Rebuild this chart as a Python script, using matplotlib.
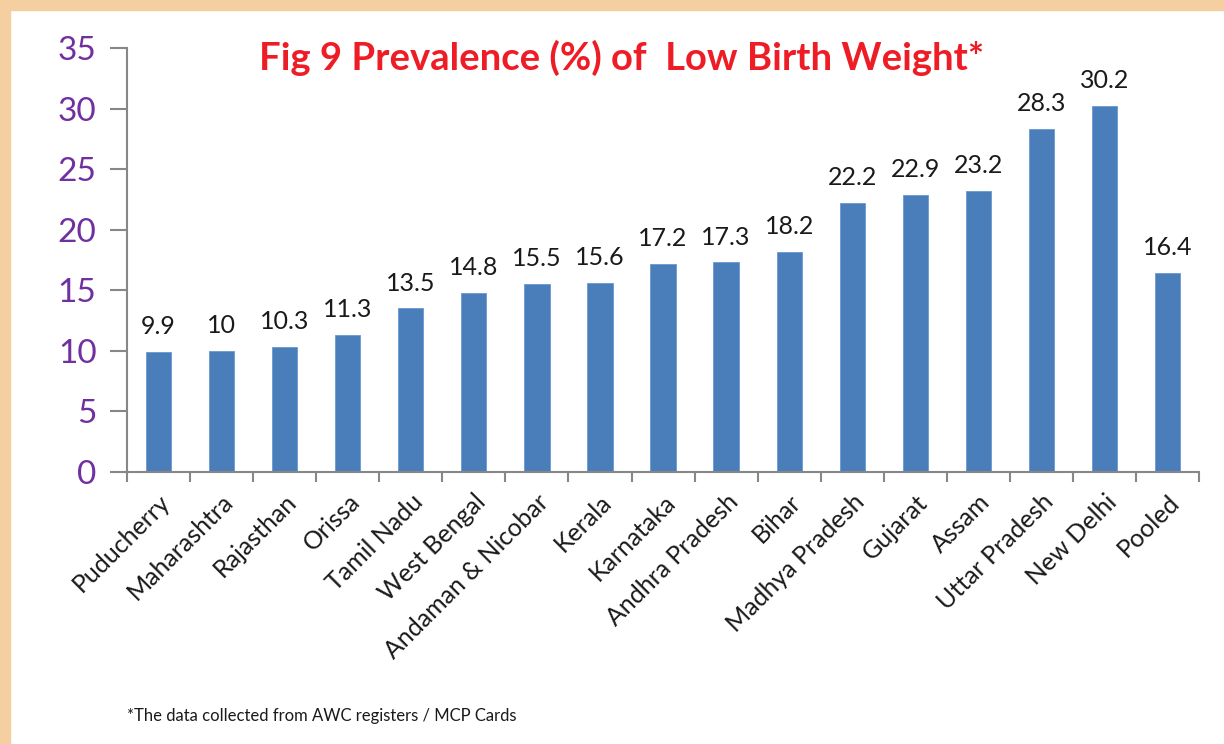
import matplotlib.pyplot as plt
from matplotlib.patches import Rectangle

states = ["Puducherry", "Maharashtra", "Rajasthan", "Orissa", "Tamil Nadu",
          "West Bengal", "Andaman & Nicobar", "Kerala", "Karnataka",
          "Andhra Pradesh", "Bihar", "Madhya Pradesh", "Gujarat", "Assam",
          "Uttar Pradesh", "New Delhi", "Pooled"]
lbw = [9.9, 10, 10.3, 11.3, 13.5, 14.8, 15.5, 15.6, 17.2, 17.3, 18.2,
       22.2, 22.9, 23.2, 28.3, 30.2, 16.4]
yticks = [0, 5, 10, 15, 20, 25, 30, 35]

plt.rcParams['font.family'] = ['Lato', 'DejaVu Sans']

fig = plt.figure(figsize=(12.24, 7.44), dpi=100)
ax = fig.add_axes([0.1038, 0.3656, 0.8758, 0.5699])

x = range(len(states))
bars = ax.bar(x, lbw, width=0.4, color="#4A7EBB", edgecolor="#6A98CF", linewidth=0.6)
for i, v in enumerate(lbw):
    ax.annotate(f"{v:g}", (i, v), xytext=(0, 10), textcoords="offset points",
                ha="center", va="bottom", fontsize=18, color="#1a1a1a")

ax.set_xlim(-0.5, len(states) - 0.5)
ax.set_ylim(0, 35)
ax.set_yticks(yticks)
ax.set_yticklabels([str(t) for t in yticks], color="#7030A0", fontsize=24)
ax.set_xticks([i - 0.5 for i in range(len(states) + 1)], minor=False)
ax.set_xticklabels([])
ax.tick_params(axis="x", length=7, color="#878787", width=1.5)
ax.tick_params(axis="y", length=12, color="#878787", width=1.5, pad=10)
# rotated state names, right end near the bar
for i, s in enumerate(states):
    ax.text(i + 0.0, -1.5, s, rotation=45, ha="right", va="top",
            rotation_mode="anchor", fontsize=18, color="#1a1a1a")

for side in ["top", "right"]:
    ax.spines[side].set_visible(False)
for side in ["left", "bottom"]:
    ax.spines[side].set_color("#878787")
    ax.spines[side].set_linewidth(1.5)

fig.text(0.508, 0.922, "Fig 9 Prevalence (%) of  Low Birth Weight*", ha="center",
         va="center", fontsize=27.5, fontweight="bold", color="#EE1C25")
fig.text(0.104, 0.038, "*The data collected from AWC registers / MCP Cards",
         fontsize=12, color="#1a1a1a", va="center")

fig.patches.append(Rectangle((0, 0), 10 / 1224, 1, transform=fig.transFigure,
                             color="#F6CFA0", zorder=0))
fig.patches.append(Rectangle((0, 1 - 10 / 744), 1, 10 / 744, transform=fig.transFigure,
                             color="#F6CFA0", zorder=0))

fig.savefig("out.png", dpi=100)
